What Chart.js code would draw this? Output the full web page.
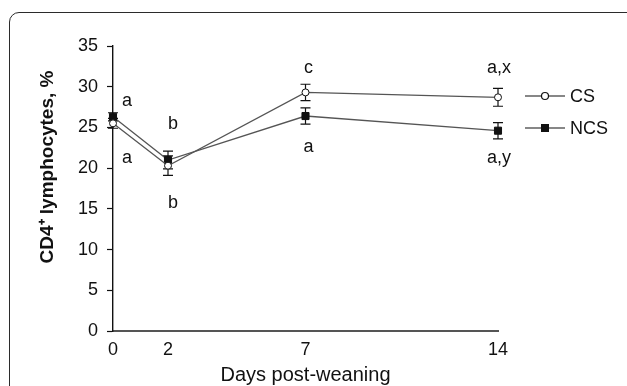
<!DOCTYPE html>
<html>
<head>
<meta charset="utf-8">
<script src="https://cdn.jsdelivr.net/npm/chart.js@4/dist/chart.umd.min.js"></script>
<style>
  html, body { margin: 0; padding: 0; background: #fff; overflow: hidden; }
  #wrap { position: relative; width: 627px; height: 386px; }
  #frame {
    position: absolute; left: 9px; top: 12px; width: 660px; height: 420px;
    border: 1.5px solid #2b2b2b; border-radius: 10px; box-sizing: border-box;
  }
  canvas { position: absolute; left: 0; top: 0; }
</style>
</head>
<body>
<div id="wrap">
  <div id="frame"></div>
  <canvas id="cd4Chart" width="627" height="386"></canvas>
</div>
<script>
'use strict';

// days post-weaning
const days = [0, 2, 7, 14];
const xTickValues = [0, 2, 7, 14];

// CD4+ lymphocytes (%), mean and SEM
const csMean = [25.5, 20.3, 29.3, 28.7];
const csErr = [0.6, 1.2, 1.0, 1.1];
const ncsMean = [26.3, 21.0, 26.4, 24.6];
const ncsErr = [0.5, 1.1, 1.0, 1.0];

// significance letters (day, value position, text)
const letterDays = [0, 0, 2, 2, 7, 7, 14, 14];
const letterValues = [28.3, 21.3, 25.4, 15.7, 32.3, 22.6, 32.3, 21.3];
const letterTexts = ['a', 'a', 'b', 'b', 'c', 'a', 'a,x', 'a,y'];

const seriesNames = ['CS', 'NCS'];
const yTitle = 'CD4\u207A lymphocytes, %';

const INK = '#111';
const LINE = '#555';
const FONT = 'Arial, "Liberation Sans", sans-serif';

function toPoints(values) {
  return days.map((d, i) => ({ x: d, y: values[i] }));
}

const errorBars = {
  id: 'errorBars',
  beforeDatasetsDraw(chart) {
    const { ctx, scales: { x, y } } = chart;
    ctx.save();
    ctx.strokeStyle = INK;
    ctx.lineWidth = 1.2;
    chart.data.datasets.forEach((ds) => {
      ds.data.forEach((pt, i) => {
        const err = ds.errors[i];
        const px = x.getPixelForValue(pt.x);
        const top = y.getPixelForValue(pt.y + err);
        const bot = y.getPixelForValue(pt.y - err);
        ctx.beginPath();
        ctx.moveTo(px, top);
        ctx.lineTo(px, bot);
        ctx.moveTo(px - 5, top);
        ctx.lineTo(px + 5, top);
        ctx.moveTo(px - 5, bot);
        ctx.lineTo(px + 5, bot);
        ctx.stroke();
      });
    });
    ctx.restore();
  },
};

const letters = {
  id: 'letters',
  afterDatasetsDraw(chart) {
    const { ctx, scales: { x, y } } = chart;
    const nudge = { 0: 14, 2: 5, 7: 3, 14: 1 };
    ctx.save();
    ctx.fillStyle = INK;
    ctx.font = '18px ' + FONT;
    ctx.textAlign = 'center';
    ctx.textBaseline = 'middle';
    letterTexts.forEach((t, i) => {
      const d = letterDays[i];
      ctx.fillText(t, x.getPixelForValue(d) + nudge[d], y.getPixelForValue(letterValues[i]));
    });

    // y axis title, centred a little above the axis middle as in the figure
    ctx.font = 'bold 19px ' + FONT;
    ctx.translate(48, 167);
    ctx.rotate(-Math.PI / 2);
    ctx.fillText(yTitle, 0, 0);
    ctx.restore();
  },
};

const sideLegend = {
  id: 'sideLegend',
  afterDraw(chart) {
    const { ctx } = chart;
    const rows = [96, 128];
    ctx.save();
    chart.data.datasets.forEach((ds, i) => {
      const cy = rows[i];
      ctx.strokeStyle = INK;
      ctx.lineWidth = 1.2;
      ctx.beginPath();
      ctx.moveTo(525, cy);
      ctx.lineTo(565, cy);
      ctx.stroke();
      if (ds.pointStyle === 'rect') {
        ctx.fillStyle = INK;
        ctx.fillRect(541, cy - 4, 8, 8);
      } else {
        ctx.fillStyle = '#fff';
        ctx.beginPath();
        ctx.arc(545, cy, 3.5, 0, Math.PI * 2);
        ctx.fill();
        ctx.stroke();
      }
      ctx.fillStyle = INK;
      ctx.font = '18px ' + FONT;
      ctx.textAlign = 'left';
      ctx.textBaseline = 'middle';
      ctx.fillText(ds.label, 570, cy + 1);
    });
    ctx.restore();
  },
};

new Chart(document.getElementById('cd4Chart'), {
  type: 'line',
  data: {
    datasets: [
      {
        label: seriesNames[0],
        data: toPoints(csMean),
        errors: csErr,
        borderColor: LINE,
        borderWidth: 1.3,
        pointStyle: 'circle',
        pointRadius: 3.5,
        pointBackgroundColor: '#fff',
        pointBorderColor: INK,
        pointBorderWidth: 1,
        clip: false,
      },
      {
        label: seriesNames[1],
        data: toPoints(ncsMean),
        errors: ncsErr,
        borderColor: LINE,
        borderWidth: 1.3,
        pointStyle: 'rect',
        pointRadius: 5,
        pointBackgroundColor: INK,
        pointBorderColor: INK,
        pointBorderWidth: 1,
        clip: false,
      },
    ],
  },
  options: {
    responsive: false,
    animation: false,
    events: [],
    layout: { padding: { top: 46, right: 129, bottom: 0, left: 0 } },
    plugins: {
      legend: { display: false },
      tooltip: { enabled: false },
    },
    scales: {
      x: {
        type: 'linear',
        min: 0,
        max: 14,
        afterBuildTicks: (scale) => {
          scale.ticks = xTickValues.map((v) => ({ value: v }));
        },
        afterFit: (scale) => { scale.height = 55; },
        grid: { display: false, drawTicks: false },
        border: { color: '#555', width: 2 },
        ticks: {
          padding: 8,
          color: INK,
          font: { family: FONT, size: 18 },
          maxRotation: 0,
        },
        title: {
          display: true,
          text: 'Days post-weaning',
          color: INK,
          font: { family: FONT, size: 20 },
          padding: { top: 0, bottom: -1 },
        },
      },
      y: {
        min: 0,
        max: 35,
        afterFit: (scale) => { scale.width = 113; },
        grid: {
          drawOnChartArea: false,
          tickLength: 6,
          tickColor: INK,
          tickWidth: 1.2,
        },
        border: { color: INK, width: 1.4 },
        ticks: {
          stepSize: 5,
          padding: 9,
          color: INK,
          font: { family: FONT, size: 18 },
        },
        title: { display: false },
      },
    },
  },
  plugins: [errorBars, letters, sideLegend],
});
</script>
</body>
</html>
